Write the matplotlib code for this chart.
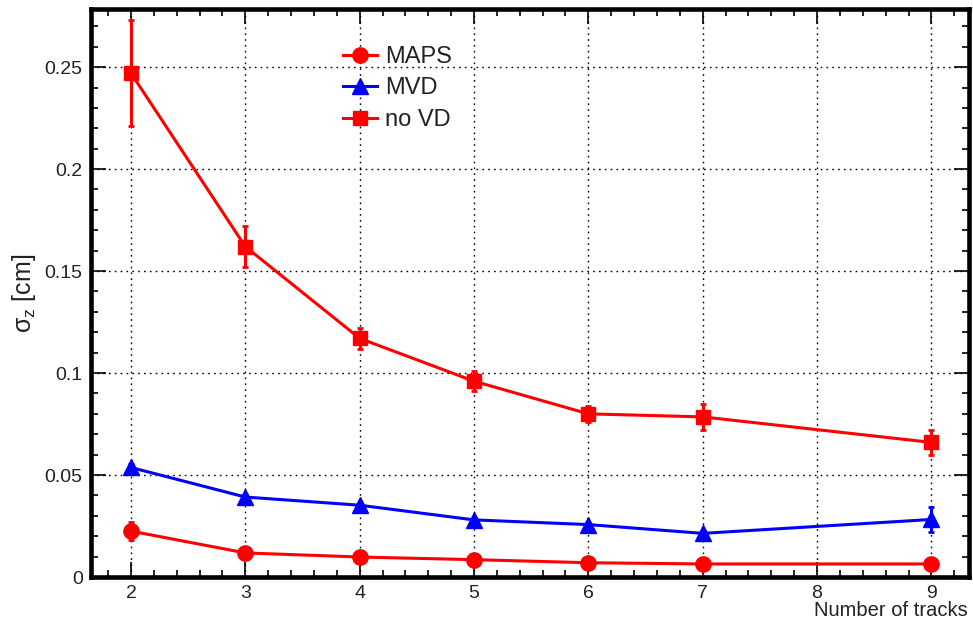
import matplotlib
matplotlib.use("Agg")
import matplotlib.pyplot as plt
from matplotlib.ticker import MultipleLocator
from matplotlib.lines import Line2D

plt.rcParams['font.family'] = ['Liberation Sans', 'DejaVu Sans']
plt.rcParams['mathtext.fontset'] = 'custom'
plt.rcParams['mathtext.rm'] = 'Liberation Sans'
plt.rcParams['mathtext.it'] = 'Liberation Sans'

# number of tracks
ntracks = [2, 3, 4, 5, 6, 7, 9]

# sigma_z [cm]
maps_val = [0.0225, 0.0118, 0.0098, 0.0085, 0.0070, 0.0064, 0.0064]
maps_err = [0.0045, 0.0010, 0.0008, 0.0007, 0.0006, 0.0006, 0.0006]

mvd_val = [0.0537, 0.0392, 0.0352, 0.0280, 0.0257, 0.0214, 0.0282]
mvd_err = [0.0015, 0.0010, 0.0010, 0.0010, 0.0010, 0.0012, 0.0062]

novd_val = [0.247, 0.162, 0.117, 0.096, 0.080, 0.0785, 0.0660]
novd_err = [0.026, 0.010, 0.005, 0.005, 0.004, 0.0065, 0.0060]

RED = "#ff0000"
BLUE = "#0000ff"
TXT = "#222222"

fig = plt.figure(figsize=(9.73, 6.25), dpi=100)
ax = fig.add_axes([0.0935, 0.0768, 0.9025, 0.9088])

styles = [
    (maps_val, maps_err, RED, "o", 11, "MAPS"),
    (mvd_val, mvd_err, BLUE, "^", 11, "MVD"),
    (novd_val, novd_err, RED, "s", 9.5, "no VD"),
]
handles = []
for vals, errs, col, mk, ms, lab in styles:
    ax.errorbar(ntracks, vals, yerr=errs, color=col, marker=mk, ms=ms,
                lw=2.2, elinewidth=2.2, capsize=2.5, capthick=2, zorder=3)
    handles.append(Line2D([], [], color=col, marker=mk, ms=ms, lw=2.2, label=lab))

ax.set_xlim(1.65, 9.33)
ax.set_ylim(0, 0.2785)
ax.xaxis.set_major_locator(MultipleLocator(1))
ax.xaxis.set_minor_locator(MultipleLocator(0.2))
ax.yaxis.set_minor_locator(MultipleLocator(0.01))
ax.set_yticks([0, 0.05, 0.1, 0.15, 0.2, 0.25])
ax.set_yticklabels(["0", "0.05", "0.1", "0.15", "0.2", "0.25"])

ax.tick_params(which="both", direction="in", top=True, right=True,
               labelsize=14, labelcolor=TXT, color="black", pad=6)
ax.tick_params(which="major", length=11, width=1.2)
ax.tick_params(which="minor", length=5, width=1.2)
for s in ax.spines.values():
    s.set_linewidth(3.3)

ax.grid(True, which="major", color="black", linestyle=(0, (1.2, 3)), linewidth=1)
ax.set_axisbelow(True)

ax.set_ylabel(r"$\sigma_{z}$ [cm]", fontsize=18, color=TXT)
ax.yaxis.set_label_coords(-0.06, 0.5)
fig.text(0.995, 0.024, "Number of tracks", ha="right", va="center",
         fontsize=14.5, color=TXT)

ax.legend(handles=handles, loc="upper left", bbox_to_anchor=(0.287, 0.935),
          frameon=False, fontsize=17, handlelength=1.45, labelspacing=0.4,
          handletextpad=0.35, borderpad=0, borderaxespad=0, labelcolor=TXT)

fig.savefig("out.png", dpi=100)
print("saved out.png")
